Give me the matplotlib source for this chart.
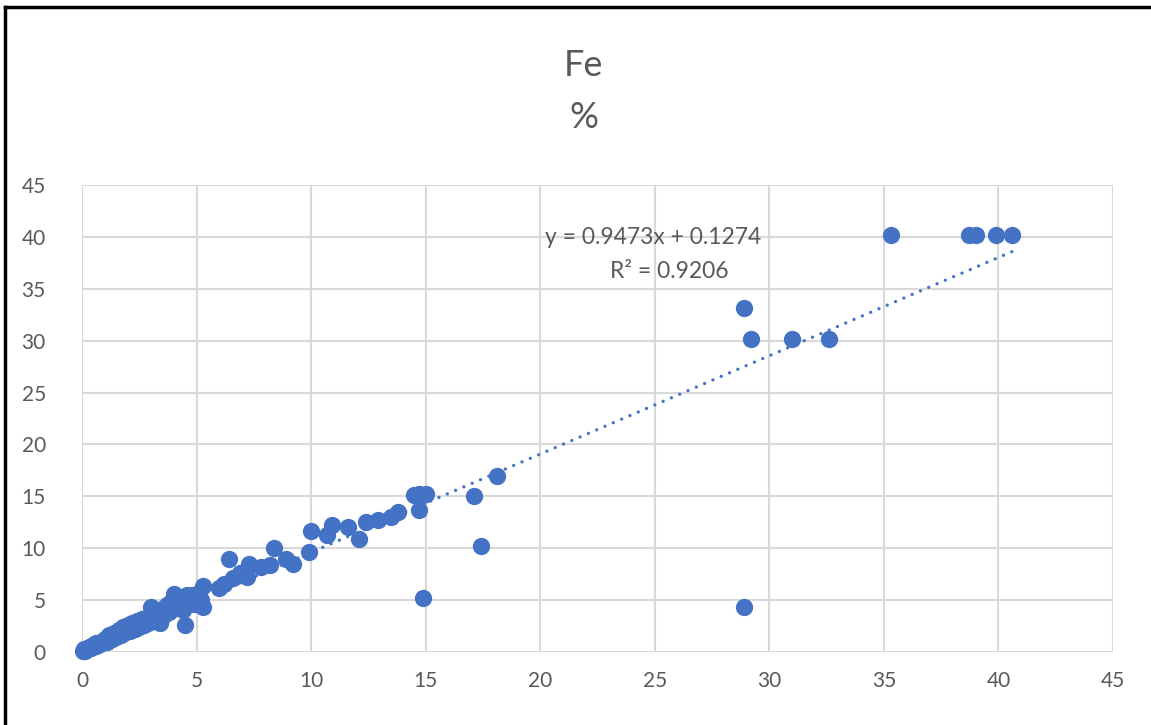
import matplotlib.pyplot as plt
from matplotlib.lines import Line2D

# Fe % data
x_vals = [0.05, 0.1, 0.15, 0.2, 0.3, 0.4, 0.5, 0.6, 0.7, 0.8, 0.9, 1.0, 1.1, 1.2,
          1.3, 1.4, 1.5, 1.6, 1.7, 1.8, 1.9, 2.0, 2.1, 2.2, 2.3, 2.4, 2.5, 2.6,
          2.7, 2.8, 2.9, 3.0, 3.0, 3.1, 3.2, 3.3, 3.4, 3.4, 3.5, 3.6, 3.7, 3.8,
          3.9, 4.0, 4.0, 4.1, 4.2, 4.3, 4.4, 4.5, 4.5, 4.6, 4.7, 4.8, 4.9, 5.0,
          5.1, 5.2, 5.3, 5.3, 4.4, 3.8, 2.5, 1.6, 1.2, 2.0, 2.8, 0.6,
          6.0, 6.2, 6.4, 6.6, 6.9, 7.2, 7.3, 7.8, 8.2, 8.4, 8.9, 9.2, 9.9,
          10.0, 10.7, 10.9, 11.6, 12.1, 12.4, 12.9, 13.5, 13.8, 14.7,
          14.5, 14.7, 14.8, 15.0, 14.9, 17.1, 17.4, 18.1,
          28.9, 28.9, 29.2, 31.0, 32.6, 35.3, 38.7, 39.0, 39.9, 40.6]
y_vals = [0.1, 0.3, 0.1, 0.3, 0.5, 0.4, 0.7, 0.6, 0.9, 0.8, 1.1, 1.3, 1.0, 1.6,
          1.3, 1.8, 1.4, 2.1, 1.6, 2.4, 1.9, 2.6, 2.0, 2.8, 2.2, 3.0, 2.4, 3.2,
          2.6, 3.3, 2.8, 4.3, 3.1, 3.6, 3.0, 3.9, 2.8, 3.5, 4.1, 3.6, 4.5, 3.9,
          4.8, 4.2, 5.6, 4.5, 5.0, 4.4, 5.3, 4.7, 2.6, 5.5, 4.9, 5.5, 4.6, 5.3,
          5.7, 5.0, 6.4, 4.3, 4.0, 4.6, 2.9, 2.0, 1.5, 2.3, 3.0, 0.9,
          6.2, 6.6, 9.0, 7.1, 7.6, 7.2, 8.5, 8.2, 8.4, 10.0, 9.0, 8.5, 9.6,
          11.7, 11.3, 12.2, 12.0, 10.9, 12.5, 12.7, 13.0, 13.5, 13.7,
          15.1, 15.2, 15.0, 15.2, 5.2, 15.0, 10.2, 17.0,
          33.1, 4.3, 30.2, 30.2, 30.2, 40.2, 40.2, 40.2, 40.2, 40.2]

# trendline shown on the chart
slope = 0.9473
intercept = 0.1274
r_squared = 0.9206

x_ticks = [0, 5, 10, 15, 20, 25, 30, 35, 40, 45]
y_ticks = [0, 5, 10, 15, 20, 25, 30, 35, 40, 45]

blue = '#4472C4'
grey_text = '#595959'
font = ['Lato', 'DejaVu Sans']
plt.rcParams['font.family'] = font

fig = plt.figure(figsize=(11.51, 7.25), dpi=100)
ax = fig.add_axes([82 / 1151, 1 - 652 / 725, (1113 - 82) / 1151, (652 - 185) / 725])

ax.scatter(x_vals, y_vals, s=155, color=blue, linewidths=0, zorder=3, clip_on=False)

x_line = [0, max(x_vals)]
y_line = [slope * v + intercept for v in x_line]
ax.plot(x_line, y_line, color=blue, linewidth=2.4, linestyle=(0, (0.01, 2.7)),
        dash_capstyle='round', zorder=4)

ax.set_xlim(0, 45)
ax.set_ylim(0, 45)
ax.set_xticks(x_ticks)
ax.set_yticks(y_ticks)
ax.grid(True, color='#D9D9D9', linewidth=1.5)
ax.set_axisbelow(True)
for sp in ax.spines.values():
    sp.set_visible(False)
ax.tick_params(length=0, labelsize=15, labelcolor=grey_text, pad=14)
ax.tick_params(axis='y', pad=26)

fig.text(0.507, 1 - 65 / 725, 'Fe', ha='center', va='center', fontsize=26, color=grey_text)
fig.text(0.507, 1 - 118 / 725, '%', ha='center', va='center', fontsize=26, color=grey_text)

fig.text(653 / 1151, 1 - 237 / 725, f'y = {slope}x + {intercept}', ha='center', va='center',
         fontsize=16.5, color=grey_text)
fig.text(669 / 1151, 1 - 271 / 725, f'R² = {r_squared}', ha='center', va='center',
         fontsize=16.5, color=grey_text)

# screenshot frame (left and top edges)
fig.add_artist(Line2D([5 / 1151, 5 / 1151], [0, 1 - 7 / 725], color='black', linewidth=2.5,
                      transform=fig.transFigure))
fig.add_artist(Line2D([5 / 1151, 1], [1 - 7 / 725, 1 - 7 / 725], color='black', linewidth=2.5,
                      transform=fig.transFigure))

fig.savefig('out.png', dpi=100)
